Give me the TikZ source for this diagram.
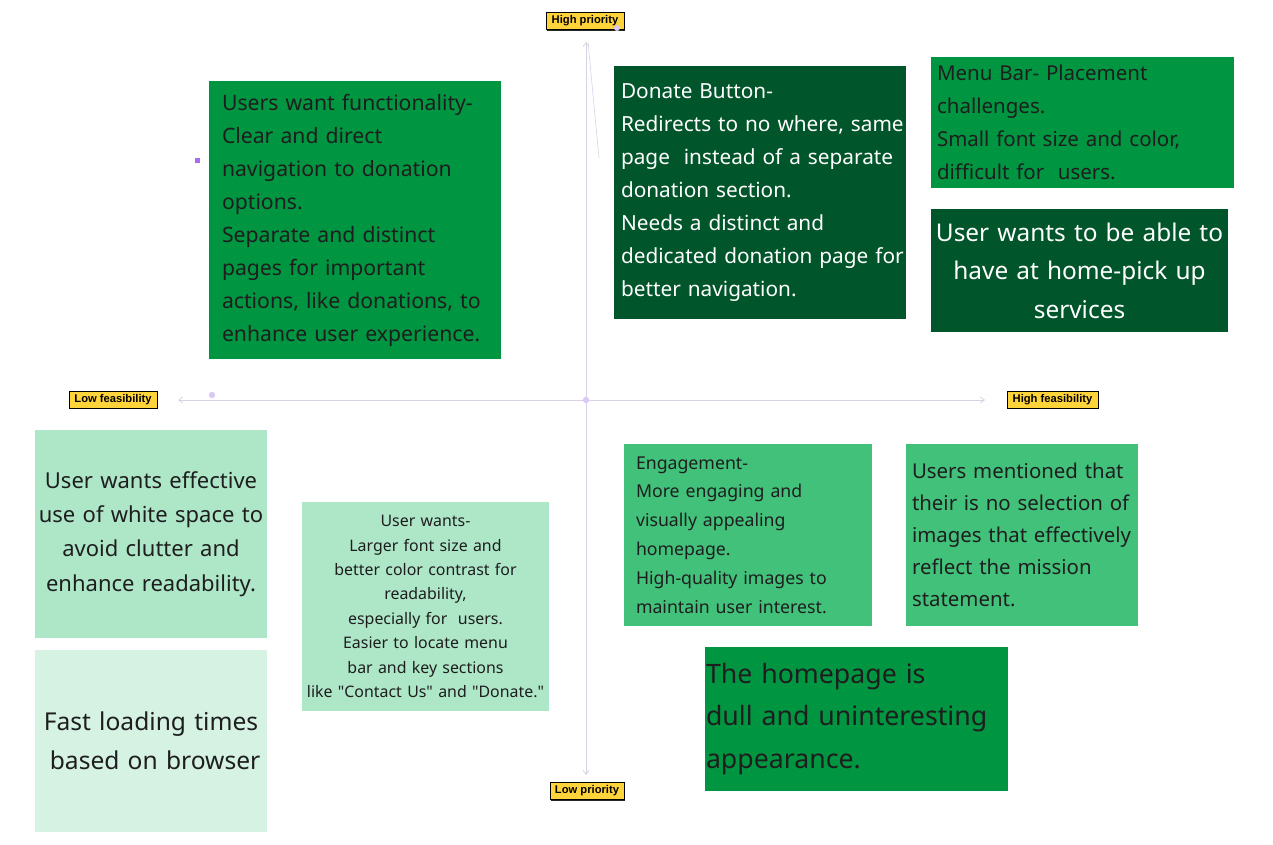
\documentclass[tikz,border=0pt]{standalone}
\usepackage{fontspec}
\setmainfont{Noto Sans}[Ligatures=TeXOff]
\newfontfamily\lblfont{Liberation Sans}
\usetikzlibrary{arrows.meta,shadows}
\definecolor{medgreen}{HTML}{009540}
\definecolor{darkgreen}{HTML}{00552A}
\definecolor{lightgreen}{HTML}{42C17B}
\definecolor{palegreen}{HTML}{AEE7C8}
\definecolor{verypale}{HTML}{D6F2E3}
\definecolor{textdark}{HTML}{1E1E1E}
\definecolor{labelyellow}{HTML}{FFD43B}
\definecolor{axisgray}{HTML}{D8D3E4}
\definecolor{dotpurple}{HTML}{D9C8F8}
\definecolor{sqpurple}{HTML}{A96CF0}
\begin{document}
\begin{tikzpicture}[x=1pt,y=-1pt,
  note/.style={rectangle, inner ysep=0pt, outer sep=0pt, text=textdark},
  lbl/.style={rectangle, fill=labelyellow, draw=black, line width=0.6pt,
    font=\lblfont\bfseries\fontsize{11.2}{12}\selectfont, text=black, inner xsep=3pt, inner ysep=0pt,
    minimum height=17pt,
    drop shadow={shadow xshift=1.3pt, shadow yshift=-1.3pt, fill=black!85, opacity=1}},
  axis/.style={draw=axisgray, line width=0.8pt},
  tip/.style={-{Straight Barb[length=4pt,width=6pt]}}
]
\useasboundingbox (0,0) rectangle (1273,845);
\fill[white] (0,0) rectangle (1273,845);

% axes
\coordinate (top) at (586,42);
\coordinate (bot) at (586,775);
\coordinate (lft) at (178,400);
\coordinate (rgt) at (985,400);
\coordinate (ctr) at (586,400);
\coordinate (strayA) at (588,42);
\coordinate (strayB) at (599,158);
\draw[axis, tip] (ctr) -- (top);
\draw[axis, tip] (ctr) -- (bot);
\draw[axis, tip] (ctr) -- (lft);
\draw[axis, tip] (ctr) -- (rgt);
\draw[draw=axisgray, line width=0.6pt] (strayA) -- (strayB);
\fill[dotpurple] (ctr) circle (3.2pt);
\fill[dotpurple] (212,395) circle (3.2pt);
\fill[sqpurple] (194.5,158.5) rectangle (199.5,163.5);

% notes
\node[note, fill=medgreen, minimum width=292pt, minimum height=278pt, inner xsep=13pt,
  text width=266pt, align=left, font=\fontsize{21.2}{33}\selectfont] (b1) at (355,220)
  {Users want functionality-\\Clear and direct\\navigation to donation\\options.\\Separate and distinct\\pages for important\\actions, like donations, to\\enhance user experience.};

\node[note, fill=darkgreen, text=white, minimum width=292pt, minimum height=253pt, inner xsep=7pt,
  text width=278pt, align=left, font=\fontsize{20.8}{33}\selectfont] (b2) at (760,192.5)
  {Donate Button-\\\mbox{Redirects to no where, same}\\\mbox{page\ \ instead of a separate}\\donation section.\\Needs a distinct and\\\mbox{dedicated donation page for}\\better navigation.};

\node[note, fill=medgreen, minimum width=303pt, minimum height=131pt, inner xsep=6pt,
  text width=291pt, align=left, font=\fontsize{20.5}{33}\selectfont] (b3) at (1082.5,122.5)
  {Menu Bar- Placement\\challenges.\\Small font size and color,\\difficult for\ \ users.};

\node[note, fill=darkgreen, text=white, minimum width=297pt, minimum height=123pt, inner xsep=0pt,
  text width=297pt, align=center, font=\fontsize{24.4}{38.5}\selectfont] (b4) at (1079.5,270.5)
  {User wants to be able to\\have at home-pick up\\services};

\node[note, fill=palegreen, minimum width=232pt, minimum height=208pt, inner xsep=0pt,
  text width=232pt, align=center, font=\fontsize{22}{34.3}\selectfont] (b5) at (151,534)
  {User wants effective\\use of white space to\\avoid clutter and\\enhance readability.};

\node[note, fill=verypale, minimum width=232pt, minimum height=182pt, inner xsep=0pt,
  text width=232pt, align=center, font=\fontsize{24.6}{39}\selectfont] (b6) at (151,741)
  {Fast loading times\\\ based on browser};

\node[note, fill=palegreen, minimum width=247pt, minimum height=209pt, inner xsep=0pt,
  text width=247pt, align=center, font=\fontsize{15.9}{24.4}\selectfont] (b7) at (425.5,606.5)
  {User wants-\\Larger font size and\\better color contrast for\\readability,\\especially for\ \ users.\\Easier to locate menu\\bar and key sections\\like "Contact Us" and "Donate."};

\node[note, fill=lightgreen, minimum width=248pt, minimum height=182pt, inner xsep=12pt,
  text width=224pt, align=left, font=\fontsize{17.7}{28.8}\selectfont] (b8) at (748,535)
  {Engagement-\\More engaging and\\visually appealing\\homepage.\\High-quality images to\\maintain user interest.};

\node[note, fill=lightgreen, minimum width=232pt, minimum height=182pt, inner xsep=6pt,
  text width=220pt, align=left, font=\fontsize{20.4}{32}\selectfont] (b9) at (1022,535)
  {Users mentioned that\\their is no selection of\\images that effectively\\reflect the mission\\statement.};

\node[note, fill=medgreen, minimum width=303pt, minimum height=144pt, inner xsep=1pt,
  text width=301pt, align=left, font=\fontsize{26.7}{42.5}\selectfont] (b10) at (856.5,719)
  {The homepage is\\dull and uninteresting\\appearance.};

% axis labels
\node[lbl, minimum width=78pt] (hp) at (585,21) {High priority};
\node[lbl, minimum width=88pt] (lf) at (113,399.5) {Low feasibility};
\node[lbl, minimum width=91pt] (hf) at (1052.5,399.5) {High feasibility};
\node[lbl, minimum width=74pt] (lp) at (587,791) {Low priority};
\fill[dotpurple] (617,28) circle (3pt);
\end{tikzpicture}
\end{document}
